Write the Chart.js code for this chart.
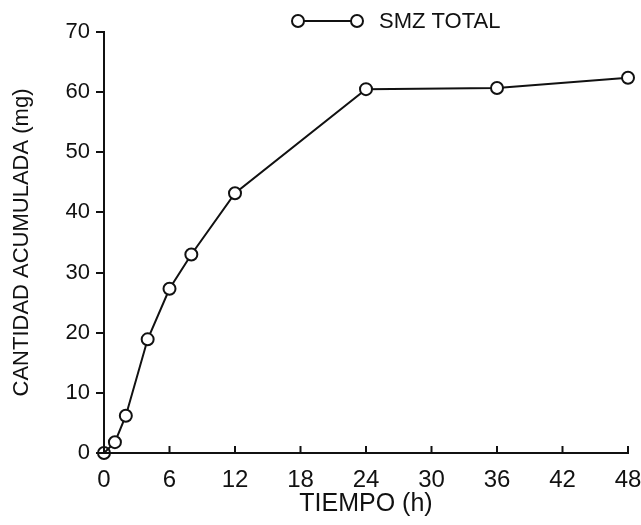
<!DOCTYPE html>
<html>
<head>
<meta charset="utf-8">
<script src="https://cdn.jsdelivr.net/npm/chart.js@4.4.1/dist/chart.umd.min.js"></script>
<style>
  html, body { margin: 0; padding: 0; background: #ffffff; }
  #wrap { width: 641px; height: 525px; position: relative; }
</style>
</head>
<body>
<div id="wrap"><canvas id="c" width="641" height="525"></canvas></div>
<script>
// ---- data ----
const tiempoH = [0, 1, 2, 4, 6, 8, 12, 24, 36, 48];
const smzTotal = [0, 1.8, 6.2, 18.9, 27.3, 33.0, 43.2, 60.5, 60.7, 62.4];
const seriesLabel = 'SMZ TOTAL';
const xTitle = 'TIEMPO (h)';
const yTitle = 'CANTIDAD ACUMULADA (mg)';
const xTickStep = 6;
const yTickStep = 10;

const FONT = 'Liberation Sans, Arial, Helvetica, sans-serif';
const INK = '#111111';

const points = tiempoH.map((t, i) => ({ x: t, y: smzTotal[i] }));

const innerXTicks = {
  id: 'innerXTicks',
  afterDraw(chart) {
    const ctx = chart.ctx, xs = chart.scales.x, area = chart.chartArea;
    ctx.save();
    ctx.strokeStyle = INK;
    ctx.lineWidth = 2;
    xs.ticks.forEach(t => {
      const px = xs.getPixelForValue(t.value);
      ctx.beginPath();
      ctx.moveTo(px, area.bottom);
      ctx.lineTo(px, area.bottom - 7);
      ctx.stroke();
    });
    ctx.restore();
  }
};

const customLegend = {
  id: 'customLegend',
  afterDraw(chart) {
    const ctx = chart.ctx;
    const y = 21;
    ctx.save();
    ctx.strokeStyle = INK;
    ctx.lineWidth = 2;
    ctx.fillStyle = '#ffffff';
    ctx.beginPath(); ctx.moveTo(304, y); ctx.lineTo(351, y); ctx.stroke();
    [298, 357].forEach(cx => {
      ctx.beginPath(); ctx.arc(cx, y, 6, 0, Math.PI * 2); ctx.fill(); ctx.stroke();
    });
    ctx.fillStyle = INK;
    ctx.font = '22px ' + FONT;
    ctx.textBaseline = 'middle';
    ctx.textAlign = 'left';
    ctx.fillText(seriesLabel, 379, y + 1);
    ctx.restore();
  }
};

new Chart(document.getElementById('c'), {
  type: 'line',
  data: {
    datasets: [{
      label: seriesLabel,
      data: points,
      borderColor: INK,
      borderWidth: 2,
      tension: 0,
      pointRadius: 6,
      pointBorderWidth: 2,
      pointBorderColor: INK,
      pointBackgroundColor: points.map((p, i) => i === 0 ? 'rgba(0,0,0,0)' : '#ffffff'),
      clip: false
    }]
  },
  options: {
    responsive: false,
    animation: false,
    devicePixelRatio: 1,
    layout: { padding: { left: 0, right: 13, top: 32, bottom: 0 } },
    plugins: { legend: { display: false }, tooltip: { enabled: false } },
    scales: {
      x: {
        type: 'linear',
        min: 0, max: 48,
        afterFit(s) { s.height = 72; s.paddingLeft = 0; s.paddingRight = 0; },
        ticks: { stepSize: xTickStep, color: INK, padding: 13, font: { family: FONT, size: 24 }, maxRotation: 0 },
        grid: { display: true, drawOnChartArea: false, drawTicks: false, color: INK, lineWidth: 2 },
        border: { display: true, color: INK, width: 2 },
        title: { display: true, text: xTitle, color: INK, font: { family: FONT, size: 25 }, padding: { top: 0, bottom: 6 } }
      },
      y: {
        type: 'linear',
        min: 0, max: 70,
        afterFit(s) { s.width = 104; s.paddingTop = 0; s.paddingBottom = 0; },
        ticks: { stepSize: yTickStep, color: INK, padding: 6, font: { family: FONT, size: 22 } },
        grid: { display: true, drawOnChartArea: false, drawTicks: true, tickLength: 8, color: INK, lineWidth: 2 },
        border: { display: true, color: INK, width: 2 },
        title: { display: true, text: yTitle, color: INK, font: { family: FONT, size: 22 }, padding: { top: 9, bottom: 0 } }
      }
    }
  },
  plugins: [innerXTicks, customLegend]
});
</script>
</body>
</html>
